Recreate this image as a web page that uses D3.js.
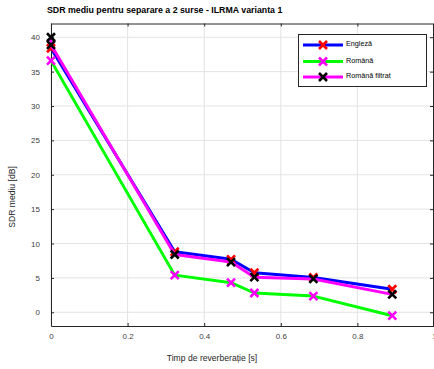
<!DOCTYPE html>
<html>
<head>
<meta charset="utf-8">
<script src="https://cdn.jsdelivr.net/npm/d3@7/dist/d3.min.js"></script>
<style>
  html, body { margin: 0; padding: 0; background: #fff; }
  svg { display: block; font-family: "Liberation Sans", Arial, sans-serif; }
</style>
</head>
<body>
<div id="chart"></div>
<script>
// timpi de reverberatie (s)
var timp = [0, 0.323, 0.47, 0.531, 0.685, 0.891];
var timpFiltrat = [0, 0, 0.323, 0.47, 0.531, 0.685, 0.891];

var sdrEngleza = [38.4, 8.8, 7.7, 5.75, 5.05, 3.35];
var sdrRomana = [36.6, 5.4, 4.3, 2.8, 2.35, -0.5];
var sdrFiltrat = [40.0, 38.9, 8.4, 7.3, 5.1, 4.85, 2.6];

var numeSerii = ["Engleză", "Română", "Română filtrat"];
var xTicks = [0, 0.2, 0.4, 0.6, 0.8, 1];
var yTicks = [0, 5, 10, 15, 20, 25, 30, 35, 40];

var width = 434, height = 369;
var pLeft = 51, pRight = 434, pTop = 23.5, pBottom = 326;

var svg = d3.select("#chart").append("svg")
    .attr("width", width)
    .attr("height", height);

var x = d3.scaleLinear().domain([0, 1]).range([pLeft, pRight]);
var y = d3.scaleLinear().domain([-2, 42]).range([pBottom, pTop]);

// grid
svg.append("g").selectAll("line").data(xTicks).enter().append("line")
    .attr("x1", d => x(d)).attr("x2", d => x(d))
    .attr("y1", pTop).attr("y2", pBottom)
    .attr("stroke", "#e3e3e3").attr("stroke-width", 1);
svg.append("g").selectAll("line").data(yTicks).enter().append("line")
    .attr("x1", pLeft).attr("x2", pRight)
    .attr("y1", d => y(d)).attr("y2", d => y(d))
    .attr("stroke", "#e3e3e3").attr("stroke-width", 1);

// axes (box with inner ticks)
var axColor = "#262626";
var xb = svg.append("g").attr("transform", "translate(0," + pBottom + ")")
    .call(d3.axisBottom(x).tickValues(xTicks).tickSizeInner(-3).tickSizeOuter(0).tickPadding(7)
        .tickFormat(d => d3.format("~g")(d)));
var xt = svg.append("g").attr("transform", "translate(0," + pTop + ")")
    .call(d3.axisTop(x).tickValues(xTicks).tickSizeInner(-3).tickSizeOuter(0).tickFormat(""));
var yl = svg.append("g").attr("transform", "translate(" + pLeft + ",0)")
    .call(d3.axisLeft(y).tickValues(yTicks).tickSizeInner(-3).tickSizeOuter(0).tickPadding(11));
var yr = svg.append("g").attr("transform", "translate(" + (pRight - 1) + ",0)")
    .call(d3.axisRight(y).tickValues(yTicks).tickSizeInner(-3).tickSizeOuter(0).tickFormat(""));
[xb, xt, yl, yr].forEach(function (g) {
    g.selectAll("path").attr("stroke", axColor).attr("stroke-width", 1);
    g.selectAll("line").attr("stroke", axColor);
    g.selectAll("text").attr("fill", "#404040").style("font-size", "8px").style("font-family", "Liberation Sans, Arial, sans-serif");
});

// series
var serii = [
    { xs: timp, ys: sdrEngleza, line: "#0000ff", marker: "#ff0000" },
    { xs: timp, ys: sdrRomana, line: "#00ff00", marker: "#ff00ff" },
    { xs: timpFiltrat, ys: sdrFiltrat, line: "#ff00ff", marker: "#000000" }
];

var linie = d3.line().x(d => x(d[0])).y(d => y(d[1]));
var m = 4;

function cruce(g, cx, cy, col, sw) {
    g.append("path")
        .attr("d", "M" + (cx - m) + "," + (cy - m) + "L" + (cx + m) + "," + (cy + m) +
            "M" + (cx - m) + "," + (cy + m) + "L" + (cx + m) + "," + (cy - m))
        .attr("stroke", col).attr("stroke-width", sw).attr("fill", "none");
}

serii.forEach(function (s) {
    var pts = s.xs.map((v, i) => [v, s.ys[i]]);
    var g = svg.append("g");
    g.append("path").datum(pts).attr("d", linie)
        .attr("fill", "none").attr("stroke", s.line).attr("stroke-width", 3)
        .attr("stroke-linejoin", "round");
    pts.forEach(p => cruce(g, x(p[0]), y(p[1]), s.marker, 2.6));
});

// legend
var lg = svg.append("g");
lg.append("rect").attr("x", 298.5).attr("y", 34.5).attr("width", 128).attr("height", 52)
    .attr("fill", "#fff").attr("stroke", axColor).attr("stroke-width", 1);
var ly = [45, 61.5, 77];
serii.forEach(function (s, i) {
    lg.append("line").attr("x1", 303).attr("x2", 343).attr("y1", ly[i]).attr("y2", ly[i])
        .attr("stroke", s.line).attr("stroke-width", 3);
    cruce(lg, 323, ly[i], s.marker, 2.6);
    lg.append("text").attr("x", 346).attr("y", ly[i] - 1).attr("dy", "0.33em")
        .style("font-size", "7.2px").attr("fill", "#000").text(numeSerii[i]);
});

// titles
svg.append("text").attr("x", 47).attr("y", 13)
    .style("font-size", "8.8px").style("font-weight", "bold").attr("fill", "#000")
    .text("SDR mediu pentru separare a 2 surse - ILRMA varianta 1");
svg.append("text").attr("x", 212).attr("y", 361)
    .attr("text-anchor", "middle").style("font-size", "8.6px").attr("fill", "#262626")
    .text("Timp de reverberație [s]");
svg.append("text").attr("transform", "translate(15,197) rotate(-90)")
    .attr("text-anchor", "middle").style("font-size", "8.6px").attr("fill", "#262626")
    .text("SDR mediu [dB]");
</script>
</body>
</html>
